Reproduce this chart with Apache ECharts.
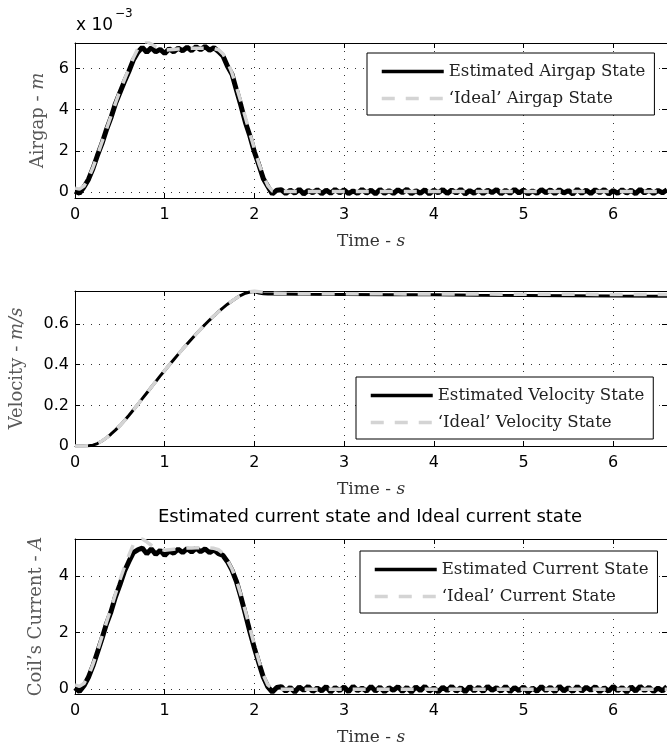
<!DOCTYPE html>
<html><head><meta charset="utf-8">
<script src="https://cdn.jsdelivr.net/npm/echarts@6/dist/echarts.min.js"></script>
<style>html,body{margin:0;padding:0;background:#fff}#c{width:667px;height:749px}</style>
</head><body><div id="c"></div>
<script>
// ---- data ----
const timeSamples = [0,0.05,0.1,0.15,0.2,0.25,0.3,0.35,0.4,0.45,0.5,0.55,0.6,0.65,0.7,0.75,0.8,0.85,0.9,0.95,1,1.05,1.1,1.15,1.2,1.25,1.3,1.35,1.4,1.45,1.5,1.55,1.6,1.65,1.7,1.75,1.8,1.85,1.9,1.95,2,2.05,2.1,2.15,2.2,2.25,2.3,2.35,2.4,2.45,2.5,2.55,2.6,2.65,2.7,2.75,2.8,2.85,2.9,2.95,3,3.05,3.1,3.15,3.2,3.25,3.3,3.35,3.4,3.45,3.5,3.55,3.6,3.65,3.7,3.75,3.8,3.85,3.9,3.95,4,4.05,4.1,4.15,4.2,4.25,4.3,4.35,4.4,4.45,4.5,4.55,4.6,4.65,4.7,4.75,4.8,4.85,4.9,4.95,5,5.05,5.1,5.15,5.2,5.25,5.3,5.35,5.4,5.45,5.5,5.55,5.6,5.65,5.7,5.75,5.8,5.85,5.9,5.95,6,6.05,6.1,6.15,6.2,6.25,6.3,6.35,6.4,6.45,6.5,6.55,6.6];

// airgap in units of 1e-3 m
const airgapEstimated = [0.05,-0.05,0.25,0.62,1.15,1.78,2.35,3.02,3.6,4.28,4.82,5.35,5.85,6.4,6.78,7.02,6.78,7.0,6.8,6.92,6.72,6.95,6.8,6.98,6.85,7.02,6.86,7.05,6.9,7.06,6.88,7.0,6.82,6.6,6.1,5.72,4.95,4.2,3.38,2.72,1.95,1.32,0.65,0.28,-0.08,0.1,
0.12,-0.06,0.1,-0.04,0.14,-0.08,0.08,-0.02,0.12,-0.07,
0.1,-0.05,0.13,-0.03,0.11,-0.07,0.07,-0.06,0.14,-0.04,
0.1,-0.08,0.13,-0.05,0.08,-0.06,0.12,-0.02,0.14,-0.07,
0.07,-0.05,0.12,-0.08,0.1,-0.03,0.13,-0.06,0.11,-0.04,
0.14,-0.08,0.08,-0.05,0.12,-0.06,0.1,-0.02,0.13,-0.07,
0.09,-0.05,0.14,-0.04,0.11,-0.08,0.07,-0.06,0.13,-0.03,
0.11,-0.07,0.12,-0.04,0.08,-0.08,0.14,-0.05,0.1,-0.06,
0.12,-0.02,0.13,-0.08,0.08,-0.05,0.12,-0.04,0.1,-0.07,
0.14,-0.04,0.11,-0.06,0.09,-0.03,0.12];

const idealTime = [0,0.05,0.1,0.15,0.2,0.25,0.3,0.35,0.4,0.45,0.5,0.55,0.6,0.65,0.7,0.75,0.8,0.85,0.9,0.95,1,1.05,1.1,1.15,1.2,1.25,1.3,1.35,1.4,1.45,1.5,1.55,1.6,1.65,1.7,1.75,1.8,1.85,1.9,1.95,2,2.05,2.1,2.15,2.2,2.25,2.3,3,4,5,6,6.6];
const airgapIdeal = [0.2,0.15,0.3,0.68,1.2,1.8,2.42,3.05,3.68,4.3,4.92,5.45,5.98,6.5,6.95,7.25,7.3,7.18,7.05,6.95,6.88,6.9,6.92,6.94,6.95,6.96,6.97,6.98,6.98,6.98,6.97,6.96,6.9,6.7,6.3,5.78,5.1,4.38,3.62,2.85,2.1,1.4,0.8,0.32,0.06,0.02,0.03,0.03,0.03,0.03,0.03,0.03];

const velocityTime = [0,0.05,0.1,0.15,0.2,0.25,0.3,0.35,0.4,0.45,0.5,0.55,0.6,0.65,0.7,0.75,0.8,0.85,0.9,0.95,1,1.05,1.1,1.15,1.2,1.25,1.3,1.35,1.4,1.45,1.5,1.55,1.6,1.65,1.7,1.75,1.8,1.85,1.9,1.95,2,2.05,2.1,2.15,2.2,2.5,3,3.5,4,4.5,5,5.5,6,6.6];
const velocityEstimated = [0,0,0,0.001,0.004,0.012,0.025,0.04,0.058,0.078,0.1,0.124,0.15,0.177,0.205,0.233,0.261,0.289,0.317,0.345,0.372,0.399,0.425,0.451,0.477,0.502,0.527,0.551,0.575,0.598,0.62,0.641,0.661,0.68,0.698,0.714,0.729,0.742,0.752,0.758,0.76,0.753,0.749,0.748,0.748,0.747,0.746,0.745,0.744,0.742,0.741,0.74,0.738,0.737];
const velocityIdeal = [0,0,0,0.001,0.004,0.012,0.025,0.04,0.058,0.078,0.1,0.124,0.15,0.177,0.205,0.233,0.261,0.289,0.317,0.345,0.372,0.399,0.425,0.451,0.477,0.502,0.527,0.551,0.575,0.598,0.62,0.641,0.661,0.68,0.698,0.714,0.729,0.742,0.752,0.76,0.763,0.76,0.757,0.754,0.752,0.75,0.749,0.749,0.748,0.748,0.747,0.747,0.746,0.746];

const currentEstimated = [0.05,-0.08,0.12,0.42,0.82,1.3,1.78,2.3,2.72,3.25,3.68,4.15,4.5,4.82,4.92,4.98,4.78,4.95,4.76,4.9,4.72,4.88,4.8,4.94,4.82,4.96,4.84,4.98,4.85,4.95,4.82,4.92,4.78,4.72,4.5,4.2,3.8,3.25,2.65,2.02,1.45,0.92,0.42,0.08,-0.1,0.06,
0.09,-0.07,0.06,-0.1,0.08,-0.04,0.1,-0.08,0.04,-0.06,
0.09,-0.1,0.06,-0.05,0.08,-0.09,0.1,-0.05,0.04,-0.07,
0.1,-0.07,0.07,-0.09,0.05,-0.04,0.09,-0.08,0.06,-0.1,
0.08,-0.05,0.1,-0.07,0.04,-0.09,0.07,-0.05,0.1,-0.07,
0.05,-0.09,0.09,-0.06,0.07,-0.08,0.1,-0.04,0.05,-0.07,
0.1,-0.09,0.06,-0.05,0.08,-0.1,0.04,-0.07,0.09,-0.05,
0.07,-0.09,0.1,-0.06,0.05,-0.08,0.1,-0.07,0.07,-0.04,
0.09,-0.09,0.05,-0.07,0.1,-0.05,0.06,-0.1,0.08,-0.07,
0.1,-0.05,0.07,-0.08,0.04,-0.06,0.09];
const currentIdeal = [0.15,0.1,0.2,0.48,0.88,1.35,1.85,2.35,2.85,3.35,3.85,4.3,4.72,5.1,5.28,5.3,5.2,5.08,5.0,4.95,4.9,4.92,4.94,4.96,4.97,4.98,4.98,4.99,4.99,4.99,4.98,4.97,4.92,4.8,4.55,4.25,3.85,3.32,2.75,2.15,1.55,1.0,0.5,0.15,0.02,0.0,0.0,0,0,0,0,0];

const xTickValues = [0,1,2,3,4,5,6];
const airgapTicks = [0,2,4,6];
const velocityTicks = [0,0.2,0.4,0.6];
const currentTicks = [0,2,4];

// ---- chart ----
const SANS = 'DejaVu Sans';
const SERIF = 'DejaVu Serif';
const zip = (xs, ys) => xs.map((x, i) => [x, ys[i]]);

const gridTops = [43, 291, 539];
const yRanges = [[-0.28, 7.23], [0, 0.763], [-0.17, 5.3]];
const yTicks = [airgapTicks, velocityTicks, currentTicks];
const yNameGaps = [28, 49, 30];
const yNames = [
  '{n|Airgap - }{i|m}',
  '{n|Velocity - }{i|m/s}',
  '{n|Coil\u2019s Current - }{i|A}'
];
const nameRich = {
  n: {fontFamily: SERIF, fontSize: 18, color: '#5a5a5a'},
  i: {fontFamily: SERIF, fontSize: 18, color: '#5a5a5a', fontStyle: 'italic'}
};
const xNameRich = {
  n: {fontFamily: SERIF, fontSize: 17, color: '#333'},
  i: {fontFamily: SERIF, fontSize: 17, color: '#333', fontStyle: 'italic'}
};
const dotted = {color: '#333', type: [1, 7], width: 1};

const grid = gridTops.map(t => ({left: 75, top: t, width: 592, height: 155}));
const xAxis = [], yAxis = [];
gridTops.forEach((t, i) => {
  xAxis.push({
    gridIndex: i, type: 'value', min: 0, max: 6.6, position: 'bottom',
    name: '{n|Time - }{i|s}', nameLocation: 'middle', nameGap: 35,
    nameTextStyle: {rich: xNameRich},
    axisLine: {show: true, onZero: false, lineStyle: {color: '#000', width: 1}},
    axisTick: {show: true, inside: true, length: 5, customValues: xTickValues, lineStyle: {color: '#000'}},
    axisLabel: {customValues: xTickValues, margin: 9, fontFamily: SANS, fontSize: 16, color: '#000'},
    splitLine: {show: true, lineStyle: dotted}
  });
  xAxis.push({
    gridIndex: i, type: 'value', min: 0, max: 6.6, position: 'top',
    axisLine: {show: true, onZero: false, lineStyle: {color: '#000', width: 1}},
    axisTick: {show: true, inside: true, length: 5, customValues: xTickValues, lineStyle: {color: '#000'}},
    axisLabel: {show: false}, splitLine: {show: false}
  });
  yAxis.push({
    gridIndex: i, type: 'value', min: yRanges[i][0], max: yRanges[i][1], position: 'left',
    name: yNames[i], nameLocation: 'middle', nameGap: yNameGaps[i],
    nameTextStyle: {rich: nameRich},
    axisLine: {show: true, onZero: false, lineStyle: {color: '#000', width: 1}},
    axisTick: {show: true, inside: true, length: 5, customValues: yTicks[i], lineStyle: {color: '#000'}},
    axisLabel: {customValues: yTicks[i], margin: 6, fontFamily: SANS, fontSize: 16, color: '#000'},
    splitLine: {show: true, lineStyle: dotted}
  });
  yAxis.push({
    gridIndex: i, type: 'value', min: yRanges[i][0], max: yRanges[i][1], position: 'right',
    axisLine: {show: true, onZero: false, lineStyle: {color: '#000', width: 1}},
    axisTick: {show: true, inside: true, length: 5, customValues: yTicks[i], lineStyle: {color: '#000'}},
    axisLabel: {show: false}, splitLine: {show: false}
  });
});

function est(name, i, data, w) {
  return {name, type: 'line', xAxisIndex: 2 * i, yAxisIndex: 2 * i, data, showSymbol: false, symbol: 'none',
    lineStyle: {color: '#000', width: w}, itemStyle: {color: '#000'}, z: 2};
}
function ideal(name, i, data) {
  return {name, type: 'line', xAxisIndex: 2 * i, yAxisIndex: 2 * i, data, showSymbol: false, symbol: 'none',
    lineStyle: {color: '#d4d4d4', width: 3.5, type: [13, 11]}, itemStyle: {color: '#d4d4d4'}, z: 3};
}
const series = [
  est('Estimated Airgap State', 0, zip(timeSamples, airgapEstimated), 5),
  ideal('\u2018Ideal\u2019 Airgap State', 0, zip(idealTime, airgapIdeal)),
  est('Estimated Velocity State', 1, zip(velocityTime, velocityEstimated), 3),
  ideal('\u2018Ideal\u2019 Velocity State', 1, zip(velocityTime, velocityIdeal)),
  est('Estimated Current State', 2, zip(timeSamples, currentEstimated), 5),
  ideal('\u2018Ideal\u2019 Current State', 2, zip(idealTime, currentIdeal))
];

function legendAt(left, top, names) {
  return {
    data: names, orient: 'vertical', left, top,
    padding: [10, 9, 8, 13], itemGap: 10, itemWidth: 62, itemHeight: 16,
    backgroundColor: '#fff', borderColor: '#000', borderWidth: 1, borderRadius: 0,
    selectedMode: false,
    itemStyle: {color: 'rgba(0,0,0,0)', borderWidth: 0, opacity: 0},
    lineStyle: {width: 3.5},
    textStyle: {fontFamily: SERIF, fontSize: 16.6, color: '#222', lineHeight: 16}
  };
}
const legend = [
  legendAt(367, 53, [series[0].name, series[1].name]),
  legendAt(356, 377, [series[2].name, series[3].name]),
  legendAt(360, 551, [series[4].name, series[5].name])
];

const chart = echarts.init(document.getElementById('c'), null, {renderer: 'canvas'});
chart.setOption({
  animation: false,
  backgroundColor: '#fff',
  grid, xAxis, yAxis, series, legend,
  graphic: [
    {type: 'text', left: 76, top: 17, style: {text: 'x 10', font: '17px "DejaVu Sans"', fill: '#000'}},
    {type: 'text', left: 115, top: 8, style: {text: '\u22123', font: '12px "DejaVu Sans"', fill: '#000'}},
    {type: 'text', x: 370, y: 517, style: {text: 'Estimated current state and Ideal current state', font: '18px "DejaVu Sans"', fill: '#000', align: 'center', verticalAlign: 'middle'}}
  ]
});
</script></body></html>
